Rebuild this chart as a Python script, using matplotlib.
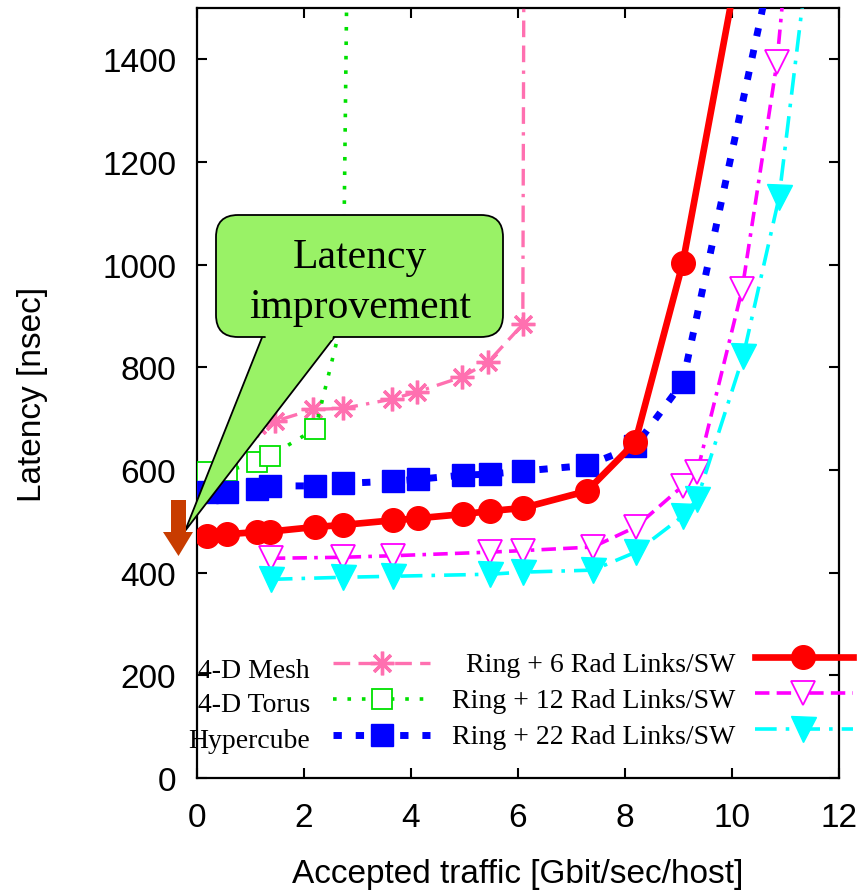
"""Latency vs accepted traffic: ring + radio links vs mesh / torus / hypercube."""
import matplotlib
matplotlib.use("Agg")
import matplotlib.pyplot as plt
from matplotlib.patches import FancyBboxPatch, Polygon

plt.rcParams["font.family"] = ["Liberation Sans", "DejaVu Sans"]

# ---------------------------------------------------------------------------
# data
# ---------------------------------------------------------------------------
x_base = [0.19, 0.56, 1.12, 1.36, 2.21, 2.73, 3.66, 4.13, 4.97, 5.48, 6.09, 7.29, 8.19, 9.08]
ring6 = [471, 475, 479, 480, 489, 493, 502, 506, 514, 520, 526, 559, 654, 1003]
hyper = [557, 558, 563, 569, 569, 574, 578, 582, 590, 592, 598, 609, 646, 771]
x_ring6_tail, y_ring6_tail = [10.2], [1631]
x_hyper_tail, y_hyper_tail = [10.8], [1610]

x_ring = [1.38, 2.73, 3.66, 5.48, 6.09, 7.4, 8.2, 9.08, 9.35, 10.19, 10.84, 11.2]
ring12 = [428, 430, 433, 440, 443, 450, 489, 569, 596, 952, 1394, 1800]
x_ring22 = [1.38, 2.73, 3.66, 5.48, 6.09, 7.4, 8.2, 9.08, 9.35, 10.21, 10.88, 11.6]
ring22 = [387, 391, 393, 397, 401, 405, 440, 510, 543, 822, 1131, 1750]

x_mesh = [1.12, 1.46, 2.17, 2.73, 3.64, 4.11, 4.95, 5.44, 6.09, 6.15]
mesh = [688, 695, 718, 720, 738, 752, 781, 810, 884, 3000]
x_torus = [0.19, 0.56, 1.12, 1.36, 2.21, 2.73, 2.85]
torus = [596, 598, 615, 627, 680, 900, 2000]

x_ticks = [0, 2, 4, 6, 8, 10, 12]
y_ticks = [0, 200, 400, 600, 800, 1000, 1200, 1400]

# ---------------------------------------------------------------------------
# styles
# ---------------------------------------------------------------------------
PINK, GREEN, BLUE = "#ff70b0", "#00e000", "#0000ff"
RED, MAG, CYAN = "#ff0000", "#ff00ff", "#00ffff"
ASTER = (8, 2, 0)
S_MESH = dict(color=PINK, lw=2.4, dashes=(5, 2.5, 5, 2.5, 1, 2.5))
S_TORUS = dict(color=GREEN, lw=2.6, dashes=(1.0, 3.0))
S_HYPER = dict(color=BLUE, lw=5.0, dashes=(1.2, 2.0))
S_R6 = dict(color=RED, lw=4.8, ls="-")
S_R12 = dict(color=MAG, lw=2.6, dashes=(4, 2, 4, 2, 1, 2))
S_R22 = dict(color=CYAN, lw=2.6, dashes=(6, 2.5, 1, 2.5))
M_MESH = dict(marker=ASTER, ms=17, mec=PINK, mew=2.4)
M_TORUS = dict(marker="s", ms=15, mfc="white", mec=GREEN, mew=1.3)
M_HYPER = dict(marker="s", ms=16, mfc=BLUE, mec=BLUE)
M_R6 = dict(marker="o", ms=17, mfc=RED, mec=RED)
M_R12 = dict(marker="v", ms=17, mfc="white", mec=MAG, mew=1.3)
M_R22 = dict(marker="v", ms=18, mfc=CYAN, mec=CYAN)

W, H = 866, 895
fig = plt.figure(figsize=(W / 100, H / 100), dpi=100)
ax = fig.add_axes([197 / W, 1 - 779 / H, 642 / W, 770 / H])

ax.plot(x_mesh, mesh, **S_MESH, **M_MESH, zorder=3)
ax.plot(x_torus, torus, **S_TORUS, **M_TORUS, zorder=3)
ax.plot(x_base + x_hyper_tail, hyper + y_hyper_tail, **S_HYPER, **M_HYPER, zorder=4)
ax.plot(x_ring, ring12, **S_R12, **M_R12, zorder=4)
ax.plot(x_ring22, ring22, **S_R22, **M_R22, zorder=4)
ax.plot(x_base + x_ring6_tail, ring6 + y_ring6_tail, **S_R6, **M_R6, zorder=5)

ax.set_xlim(0, 12)
ax.set_ylim(0, 1500)
ax.set_xticks(x_ticks)
ax.set_yticks(y_ticks)
ax.tick_params(direction="in", length=7, width=1.5, top=True, right=True,
               labelsize=24)
ax.tick_params(axis="x", pad=17)
ax.tick_params(axis="y", pad=15)
for s in ax.spines.values():
    s.set_linewidth(1.6)
ax.set_xlabel("Accepted traffic [Gbit/sec/host]", fontsize=24, va="center")
ax.xaxis.set_label_coords(0.5, -(875 - 779) / 770)
ax.set_ylabel("Latency [nsec]", fontsize=24, va="center")
ax.yaxis.set_label_coords(-(197 - 32) / 642, 0.5)

# ---------------------------------------------------------------------------
# overlay in pixel coords: callout, arrow, key
# ---------------------------------------------------------------------------
ov = fig.add_axes([0, 0, 1, 1], zorder=10)
ov.set_xlim(0, W)
ov.set_ylim(H, 0)
ov.axis("off")
ov.patch.set_alpha(0)

FILL = "#99f266"
ov.add_patch(Polygon([(263, 336), (336, 336), (185, 532)], closed=True,
                     fc=FILL, ec="black", lw=1.3, zorder=1))
ov.add_patch(FancyBboxPatch((216, 216), 287, 122,
                            boxstyle="round,pad=0,rounding_size=22",
                            fc=FILL, ec="black", lw=1.3, zorder=2))
ov.add_patch(Polygon([(265, 333), (334, 333), (332, 341), (266, 341)],
                     closed=True, fc=FILL, ec="none", zorder=3))
ov.text(360, 268, "Latency", ha="center", va="baseline", fontsize=30,
        family="Liberation Serif", zorder=4)
ov.text(360, 318, "improvement", ha="center", va="baseline", fontsize=30,
        family="Liberation Serif", zorder=4)

ov.add_patch(Polygon([(171, 501), (186, 501), (186, 533), (193, 533),
                      (178.5, 557), (163, 533), (171, 533)],
                     closed=True, fc="#c83c00", ec="none"))

SERIF = dict(family="Liberation Serif", fontsize=20, va="center", ha="right")
left_key = [("4-D Mesh", S_MESH, M_MESH), ("4-D Torus", S_TORUS, M_TORUS),
            ("Hypercube", S_HYPER, M_HYPER)]
right_key = [("Ring + 6 Rad Links/SW", S_R6, M_R6),
             ("Ring + 12 Rad Links/SW", S_R12, M_R12),
             ("Ring + 22 Rad Links/SW", S_R22, M_R22)]
for i, (lab, st, mk) in enumerate(left_key):
    yt, ys = 671 + 35 * i, 664 + 36 * i
    ov.text(310, yt, lab, **SERIF)
    ov.plot([333, 430], [ys, ys], **st)
    ov.plot([382], [ys], ls="none", **mk)
for i, (lab, st, mk) in enumerate(right_key):
    yt, ys = 666 + 36 * i, 658 + 36 * i
    ov.text(735, yt, lab, **SERIF)
    ov.plot([755, 853], [ys, ys], **st)
    ov.plot([803], [ys], ls="none", **mk)

fig.savefig("out.png", dpi=100)
